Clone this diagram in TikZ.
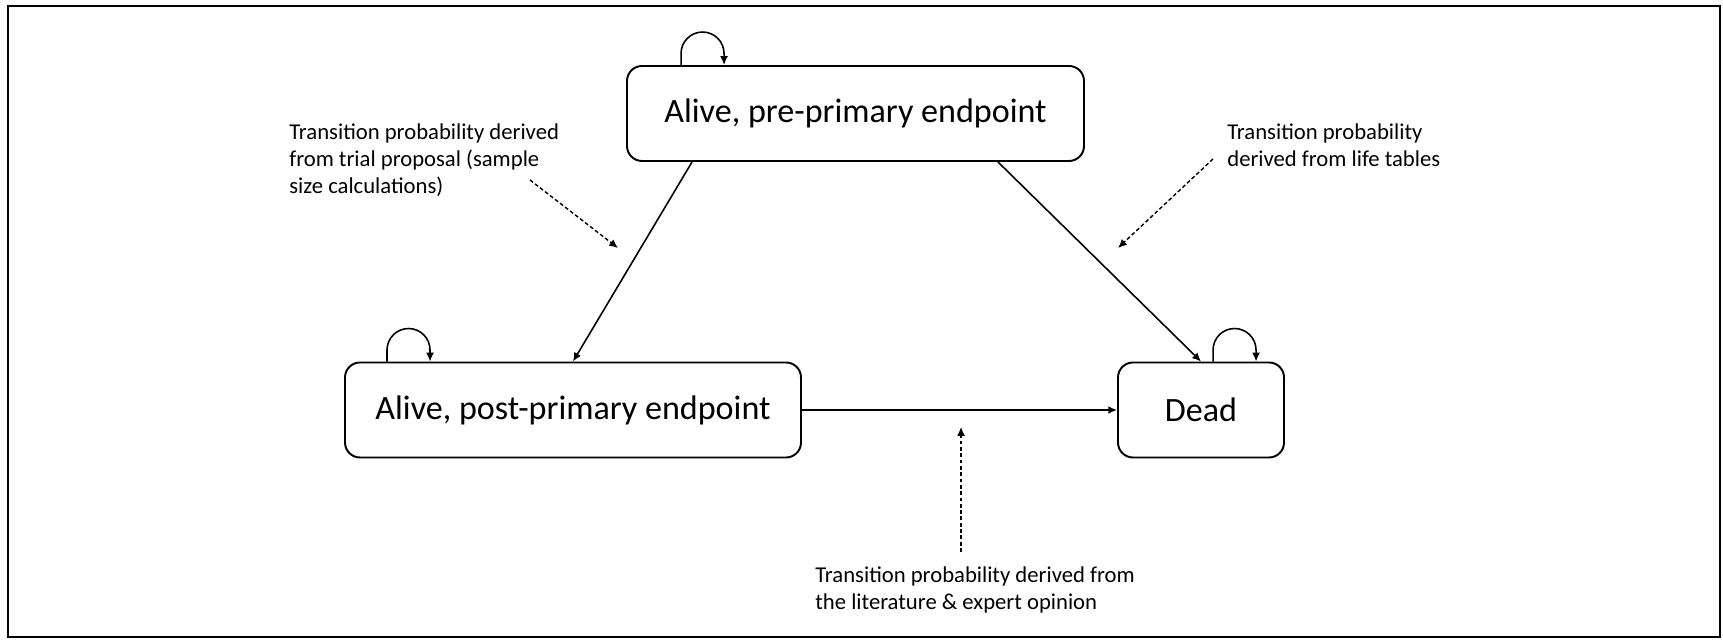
\documentclass[tikz,border=0pt]{standalone}
\usepackage{fontspec}
\setmainfont{Carlito}
\usetikzlibrary{arrows.meta}

\tikzset{
  statebox/.style={draw,line width=1.1pt,rounded corners=0.3cm,inner sep=0pt,
    minimum height=1.9cm,font=\fontsize{19.4}{23}\selectfont},
  notetext/.style={inner sep=0pt,align=left,anchor=north west,
    font=\fontsize{12.9}{15.4}\selectfont},
  trans/.style={->,line width=0.9pt},
  hint/.style={->,line width=0.8pt,dash pattern=on 2.2pt off 1.4pt}
}

\begin{document}
\begin{tikzpicture}[>={Latex[length=5pt,width=4.5pt]}]
  \useasboundingbox (0,0) rectangle (34.46,12.8);
  \draw[line width=1.1pt] (0.16,0.06) rectangle (34.40,12.68);

  \node[statebox,minimum width=9.14cm] (pre) at (17.11,10.53) {Alive, pre-primary endpoint};
  \node[statebox,minimum width=9.12cm] (post) at (11.46,4.60) {Alive, post-primary endpoint};
  \node[statebox,minimum width=3.32cm] (dead) at (24.02,4.60) {Dead};

  \draw[trans] ([xshift=1.1cm]pre.north west) -- ++(0,0.23)
    arc[start angle=180,end angle=0,radius=0.43cm] -- ++(0,-0.23);
  \draw[trans] ([xshift=0.86cm]post.north west) -- ++(0,0.23)
    arc[start angle=180,end angle=0,radius=0.43cm] -- ++(0,-0.23);
  \draw[trans] ([xshift=1.92cm]dead.north west) -- ++(0,0.23)
    arc[start angle=180,end angle=0,radius=0.43cm] -- ++(0,-0.23);

  \draw[trans] ([xshift=1.32cm]pre.south west) -- (post.north);
  \draw[trans] ([xshift=-1.74cm]pre.south east) -- (dead.north);
  \draw[trans] (post) -- (dead);

  \node[notetext] (trialnote) at (5.78,10.34) {Transition probability derived\\from trial proposal (sample\\size calculations)};
  \node[notetext] (lifenote) at (24.54,10.34) {Transition probability\\derived from life tables};
  \node[notetext] (litnote) at (16.30,1.48) {Transition probability derived from\\the literature \& expert opinion};

  \coordinate (trialfrom) at (10.60,9.20);
  \coordinate (trialto) at (12.36,7.84);
  \coordinate (lifefrom) at (24.26,9.62);
  \coordinate (lifeto) at (22.36,7.84);
  \coordinate (litfrom) at (19.22,1.76);
  \coordinate (litto) at (19.22,4.26);
  \draw[hint] (trialfrom) -- (trialto);
  \draw[hint] (lifefrom) -- (lifeto);
  \draw[hint] (litfrom) -- (litto);
\end{tikzpicture}
\end{document}
